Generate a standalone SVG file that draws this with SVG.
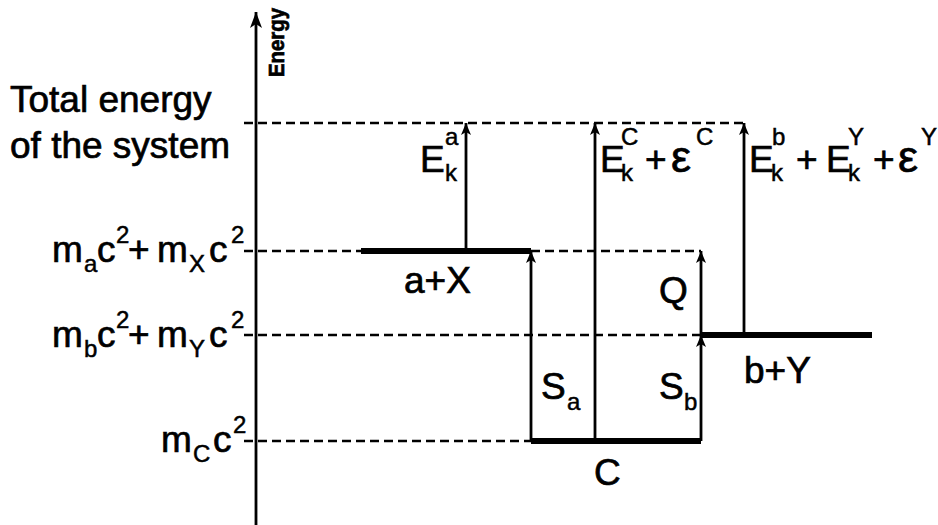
<svg xmlns="http://www.w3.org/2000/svg" width="938" height="525" viewBox="0 0 938 525">
<defs>
<style>
text{font-family:"Liberation Sans",Arial,sans-serif;fill:#000;stroke:#000;stroke-width:0.7}
.big{font-size:37px}
.sm{font-size:24px;stroke-width:0.5}
.eps{font-size:45px}
.dash{stroke:#000;stroke-width:2.4;stroke-dasharray:9 5;fill:none}
.lvl{stroke:#000;stroke-width:6;fill:none}
.arr{stroke:#000;stroke-width:2.8;fill:none;marker-end:url(#ah)}
</style>
<marker id="ah" viewBox="0 0 12 10" refX="12" refY="5" markerWidth="12" markerHeight="10" markerUnits="userSpaceOnUse" orient="auto">
<path d="M0,0 L12,5 L0,10 L3,5 Z" fill="#000"/>
</marker>
<marker id="axh" viewBox="0 0 16 12" refX="16" refY="6" markerWidth="16" markerHeight="12" markerUnits="userSpaceOnUse" orient="auto">
<path d="M0,0 L16,6 L0,12 L4,6 Z" fill="#000"/>
</marker>
</defs>
<rect width="938" height="525" fill="#fff"/>

<g id="axis">
<line x1="256" y1="525" x2="256" y2="12" stroke="#000" stroke-width="2.8" marker-end="url(#axh)"/>
<text transform="translate(284,77) rotate(-90)" font-size="22" font-weight="bold" stroke-width="0.3" textLength="69" lengthAdjust="spacingAndGlyphs">Energy</text>
</g>

<g id="connectors">
<line class="dash" x1="244" y1="123" x2="744" y2="123"/>
<line class="dash" x1="244" y1="251" x2="361" y2="251"/>
<line class="dash" x1="531" y1="251" x2="701" y2="251"/>
<line class="dash" x1="244" y1="335" x2="701" y2="335"/>
<line class="dash" x1="244" y1="441" x2="531" y2="441"/>
<line class="arr" x1="466" y1="251" x2="466" y2="123"/>
<line class="arr" x1="531" y1="441" x2="531" y2="251"/>
<line class="arr" x1="595" y1="441" x2="595" y2="123"/>
<line class="arr" x1="701" y1="335" x2="701" y2="251"/>
<line class="arr" x1="701" y1="441" x2="701" y2="335"/>
<line class="arr" x1="744" y1="335" x2="744" y2="123"/>
</g>

<g id="total-label">
<text class="big" x="10" y="112">Total energy</text>
<text class="big" x="10" y="158">of the system</text>
</g>

<g id="label-aX">
<text class="big"><tspan x="52" y="262">m</tspan><tspan class="sm" x="84" y="272">a</tspan><tspan x="97" y="262">c</tspan><tspan class="sm" x="116" y="243">2</tspan><tspan x="128" y="262">+</tspan><tspan x="157" y="262">m</tspan><tspan class="sm" x="189" y="272">X</tspan><tspan x="209" y="262">c</tspan><tspan class="sm" x="231" y="243">2</tspan></text>
</g>
<g id="label-bY">
<text class="big"><tspan x="52" y="347">m</tspan><tspan class="sm" x="84" y="357">b</tspan><tspan x="97" y="347">c</tspan><tspan class="sm" x="116" y="328">2</tspan><tspan x="128" y="347">+</tspan><tspan x="157" y="347">m</tspan><tspan class="sm" x="189" y="357">Y</tspan><tspan x="209" y="347">c</tspan><tspan class="sm" x="231" y="328">2</tspan></text>
</g>
<g id="label-C">
<text class="big"><tspan x="161" y="452">m</tspan><tspan class="sm" x="193" y="462">C</tspan><tspan x="213" y="452">c</tspan><tspan class="sm" x="233" y="433">2</tspan></text>
</g>

<g id="level-aX">
<line class="lvl" x1="361" y1="251" x2="531" y2="251"/>
<text class="big" x="404" y="293">a+X</text>
</g>
<g id="level-C">
<line class="lvl" x1="531" y1="441" x2="701" y2="441"/>
<text class="big" x="594" y="485">C</text>
</g>
<g id="level-bY">
<line class="lvl" x1="701" y1="335" x2="872" y2="335"/>
<text class="big" x="744" y="383">b+Y</text>
</g>

<g id="label-Eka">
<text class="big"><tspan x="420" y="172">E</tspan><tspan class="sm" x="445" y="181">k</tspan><tspan class="sm" x="445" y="145">a</tspan></text>
</g>
<g id="label-EkC">
<text class="big"><tspan x="600" y="172">E</tspan><tspan class="sm" x="621" y="181">k</tspan><tspan class="sm" x="621" y="145">C</tspan><tspan x="645" y="172">+</tspan><tspan class="eps" x="671" y="172">ε</tspan><tspan class="sm" x="696" y="145">C</tspan></text>
</g>
<g id="label-Ekb">
<text class="big"><tspan x="749" y="172">E</tspan><tspan class="sm" x="771" y="181">k</tspan><tspan class="sm" x="772" y="145">b</tspan><tspan x="796" y="172">+</tspan><tspan x="826" y="172">E</tspan><tspan class="sm" x="848" y="181">k</tspan><tspan class="sm" x="848" y="145">Y</tspan><tspan x="873" y="172">+</tspan><tspan class="eps" x="898" y="172">ε</tspan><tspan class="sm" x="921" y="145">Y</tspan></text>
</g>

<g id="label-Sa">
<text class="big"><tspan x="541" y="399">S</tspan><tspan class="sm" x="567" y="410">a</tspan></text>
</g>
<g id="label-Sb">
<text class="big"><tspan x="659" y="399">S</tspan><tspan class="sm" x="684" y="410">b</tspan></text>
</g>
<g id="label-Q">
<text class="big" x="659" y="303">Q</text>
</g>
</svg>
